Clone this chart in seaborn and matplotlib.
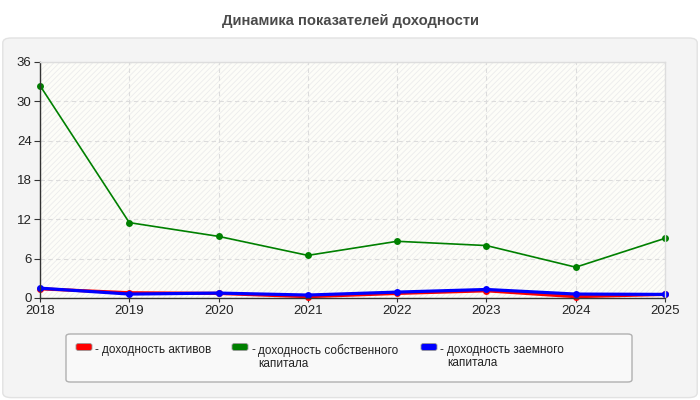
import matplotlib
matplotlib.use("Agg")
import matplotlib.pyplot as plt
from matplotlib.patches import FancyBboxPatch, Rectangle
import numpy as np
import pandas as pd
import seaborn as sns

years = [2018, 2019, 2020, 2021, 2022, 2023, 2024, 2025]
roa = [1.4, 0.8, 0.7, 0.2, 0.7, 1.1, 0.2, 0.55]
roe = [32.4, 11.5, 9.4, 6.5, 8.65, 8.0, 4.7, 9.1]
rod = [1.5, 0.6, 0.75, 0.45, 0.9, 1.3, 0.6, 0.55]

labels = ["доходность активов",
          "доходность собственного\nкапитала",
          "доходность заемного\nкапитала"]
colors = ["#ff0000", "#008000", "#0000ff"]
widths = [2.3, 1.2, 2.3]

sns.set_style("white")
plt.rcParams["font.family"] = ["Liberation Sans", "DejaVu Sans"]
plt.rcParams["hatch.linewidth"] = 0.6

fig = plt.figure(figsize=(7, 4), dpi=100)
fig.patch.set_facecolor("white")

# outer panel
panel = FancyBboxPatch((0.004, 0.006), 0.992, 0.899,
                       boxstyle="round,pad=0,rounding_size=0.012",
                       transform=fig.transFigure, facecolor="#f4f4f4",
                       edgecolor="#e2e2e2", linewidth=1.0, zorder=-10)
fig.patches.append(panel)

fig.text(0.5, 0.947, "Динамика показателей доходности", ha="center",
         va="center", fontsize=10.6, fontweight="bold", color="#4a4a4a")

ax = fig.add_axes([40 / 700, 1 - 298 / 400, 625 / 700, 236 / 400])
ax.patch.set_facecolor("#fdfdf8")
bg = Rectangle((0, 0), 1, 1, transform=ax.transAxes, facecolor="#fdfdf8",
               edgecolor="#ececec", hatch="//////", linewidth=0, zorder=-1)
ax.add_patch(bg)

data = pd.DataFrame({"year": years, "roa": roa, "roe": roe, "rod": rod})
for col, c, w in zip(["roa", "roe", "rod"], colors, widths):
    sns.lineplot(data=data, x="year", y=col, color=c, linewidth=w,
                 marker="o", markersize=5, markeredgewidth=0, ax=ax,
                 clip_on=False)

ax.set_xlim(2018, 2025)
ax.set_ylim(0, 36)
ax.set_xticks(years)
ax.set_yticks(np.arange(0, 37, 6))
ax.set_xlabel("")
ax.set_ylabel("")
ax.grid(True, color="#dcdcdc", linestyle=(0, (4, 3)), linewidth=0.8)
ax.set_axisbelow(True)
for s in ["top", "right"]:
    ax.spines[s].set_color("#dddddd")
    ax.spines[s].set_linewidth(1.0)
for s in ["left", "bottom"]:
    ax.spines[s].set_color("#333333")
    ax.spines[s].set_linewidth(1.0)
ax.tick_params(axis="y", left=True, length=4, color="#333333",
               labelsize=9.5, labelcolor="#222222", pad=2)
ax.tick_params(axis="x", bottom=True, length=3, color="#333333",
               labelsize=9.5, labelcolor="#222222", pad=2)

# legend box
lbox = FancyBboxPatch((66 / 700, 1 - 382 / 400), 566 / 700, 48 / 400,
                      boxstyle="round,pad=0,rounding_size=0.006",
                      transform=fig.transFigure, facecolor="#f9f9f9",
                      edgecolor="#b0b0b0", linewidth=1.0, zorder=-5)
fig.patches.append(lbox)

# legend entries: handle, dash, label (top aligned)
entry_x = [76, 232, 421]
for x0, c, lab in zip(entry_x, colors, labels):
    h = FancyBboxPatch((x0 / 700, 1 - 350.5 / 400), 16 / 700, 7 / 400,
                       boxstyle="round,pad=0,rounding_size=0.004",
                       transform=fig.transFigure, facecolor=c,
                       edgecolor="#999999", linewidth=0.6, zorder=2)
    fig.patches.append(h)
    fig.text((x0 + 19) / 700, 1 - 344 / 400, "-", ha="left", va="top",
             fontsize=8.5, color="#222222")
    fig.text((x0 + 26) / 700, 1 - 344 / 400, lab, ha="left", va="top",
             fontsize=8.5, color="#222222", linespacing=1.1)

fig.savefig("out.png", dpi=100)
